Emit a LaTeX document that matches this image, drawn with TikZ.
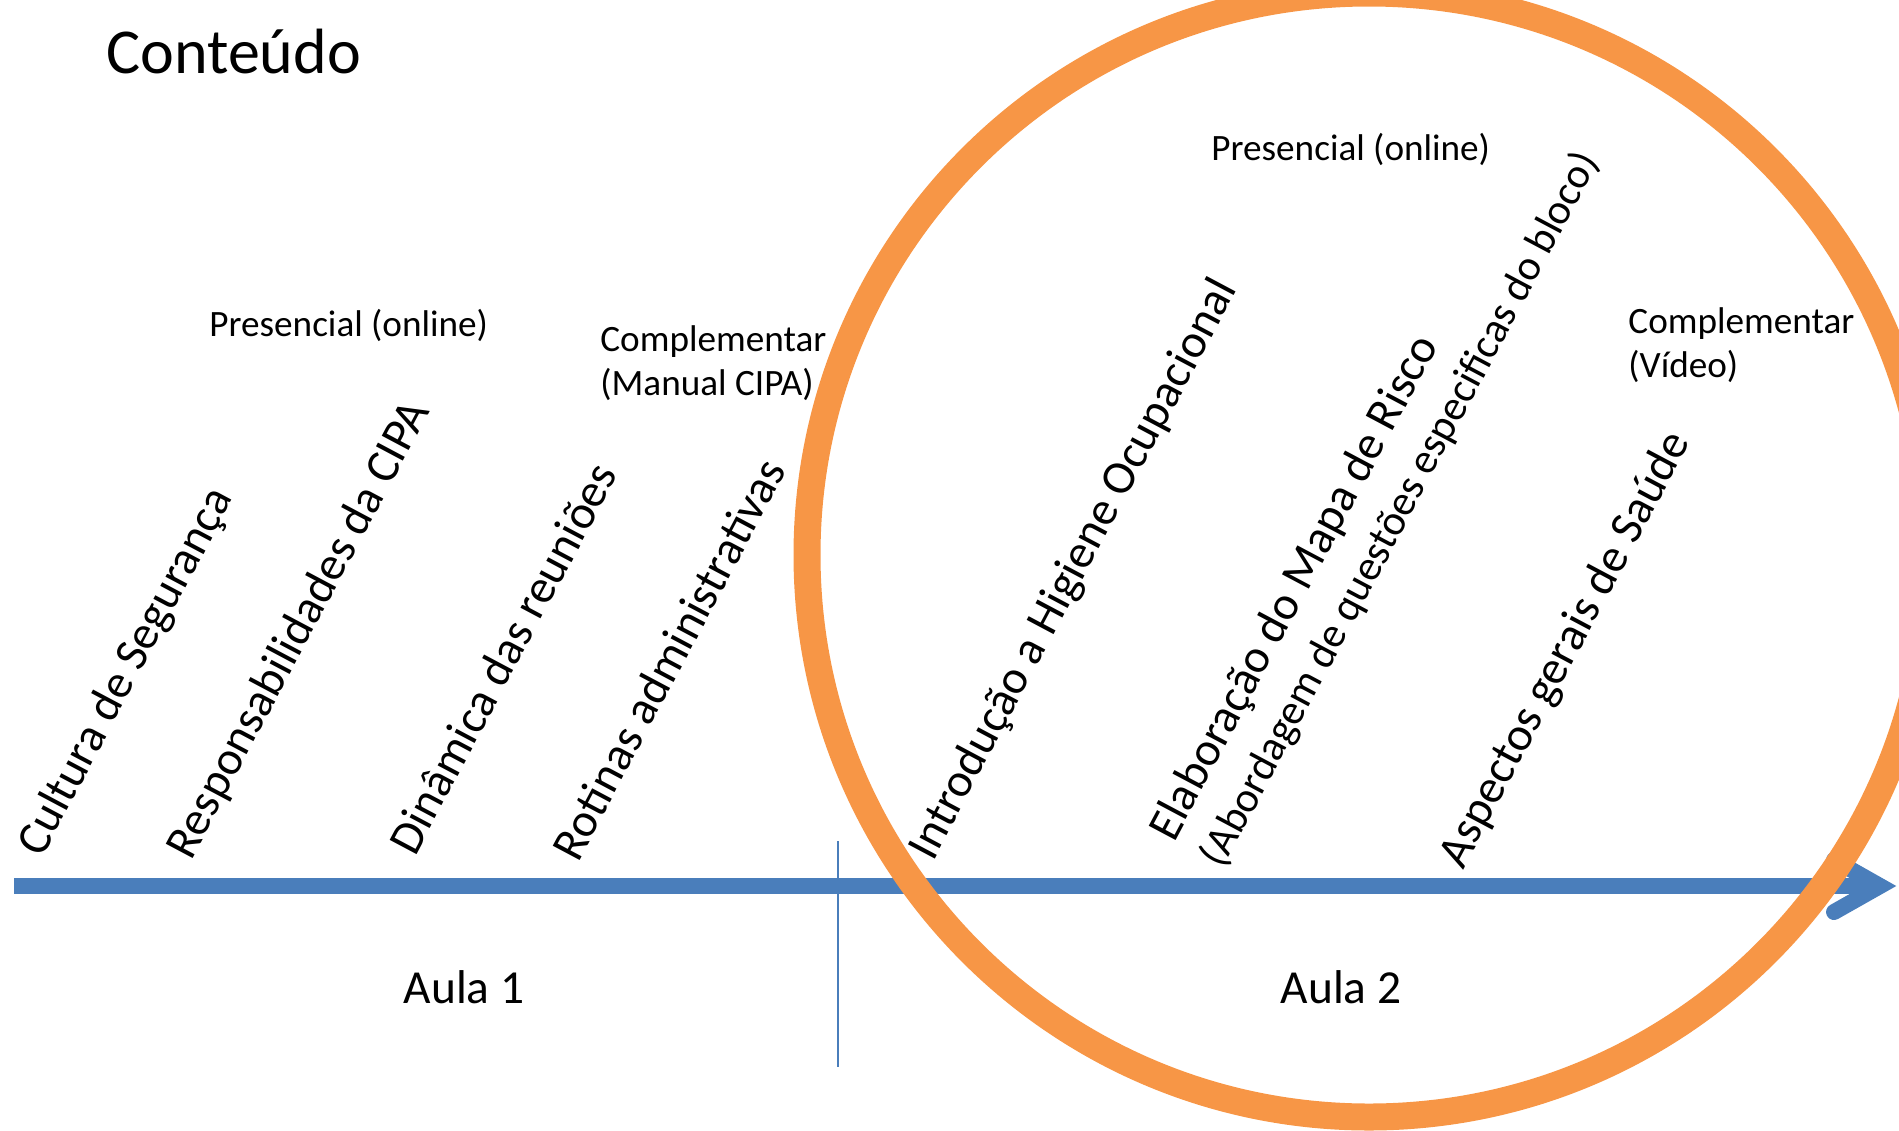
\documentclass[tikz,border=0pt]{standalone}
\usepackage{fontspec}
\setmainfont{Carlito}
\usetikzlibrary{calc}
\definecolor{axisblue}{HTML}{4A7EBB}
\definecolor{ringorange}{HTML}{F79646}
\begin{document}
\begin{tikzpicture}[x=0.5pt,y=-0.5pt,
  title/.style={anchor=base west, inner sep=0pt, font=\fontsize{32}{38}\selectfont},
  topic/.style={anchor=base west, inner sep=0pt, outer sep=0pt, rotate=62, font=\fontsize{23.7}{28.9}\selectfont},
  note/.style={anchor=base west, inner sep=0pt, font=\fontsize{18.6}{22}\selectfont},
  lesson/.style={anchor=base, inner sep=0pt, font=\fontsize{23.7}{28.9}\selectfont},
  axis/.style={draw=axisblue, line width=8pt},
  axishead/.style={draw=axisblue, line width=8pt, line cap=round, line join=miter},
  divider/.style={draw=axisblue, line width=1pt},
  ring/.style={draw=ringorange, line width=13.5pt}]
\useasboundingbox (0,0) rectangle (1899,1130);
\clip (0,0) rectangle (1899,1130);

% timeline geometry
\coordinate (axisstart) at (14,886);
\coordinate (axisend) at (1880,886);
\coordinate (divtop) at (838,841);
\coordinate (divbot) at (838,1067);
\coordinate (ringcentre) at (1369,555);

% divider between the two lessons
\draw[divider] (divtop) -- (divbot);

% time axis with open arrow head
\draw[axis] (axisstart) -- (axisend);
\draw[axishead] ($(axisend)+(-46,-26)$) -- (axisend) -- ($(axisend)+(-46,26)$);

% highlight ring around the second lesson
\draw[ring] (ringcentre) circle[radius=562];

% heading
\node[title] (heading) at (106,73) {Conteúdo};

% lesson 1 topics
\node[topic] (t1) at (42,858) {Cultura de Segurança};
\node[topic] (t2) at (191,861) {Responsabilidades da CIPA};
\node[topic] (t3) at (415,857) {Dinâmica das reuniões};
\node[topic] (t4) at (578,863) {Rotinas administrativas};

% lesson 2 topics
\node[topic] (t5) at (933,862) {Introdução a Higiene Ocupacional};
\node[topic] (t6) at (1174,843) {\vtop{\baselineskip=27.7pt
  \hbox{Elaboração do Mapa de Risco}
  \hbox{\fontsize{21.3}{26}\selectfont(Abordagem de questões especificas do bloco)}}};
\node[topic] (t7) at (1463,870) {Aspectos gerais de Saúde};

% delivery notes
\node[note] (n1) at (209,336) {Presencial (online)};
\node[note] (n2) at (600,351) {\vtop{\hbox{Complementar}\hbox{(Manual CIPA)}}};
\node[note] (n3) at (1211,160) {Presencial (online)};
\node[note] (n4) at (1628,333) {\vtop{\hbox{Complementar}\hbox{(Vídeo)}}};

% lesson labels
\node[lesson] (aula1) at (464,1003) {Aula 1};
\node[lesson] (aula2) at (1341,1003) {Aula 2};
\end{tikzpicture}
\end{document}
